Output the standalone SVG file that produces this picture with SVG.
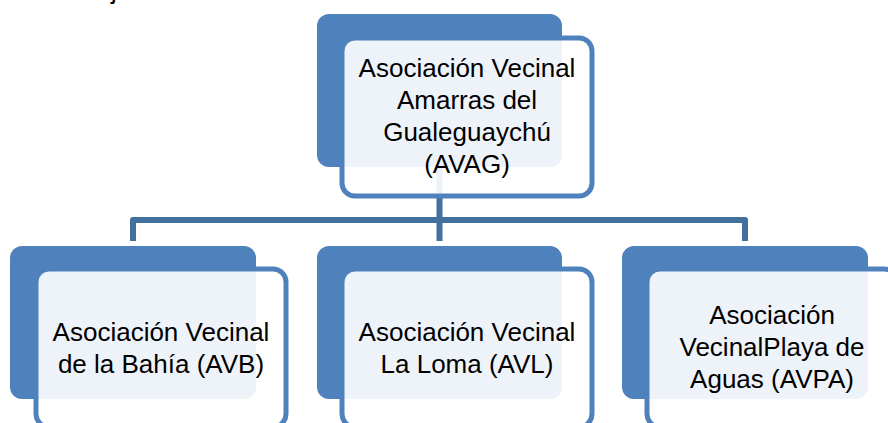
<svg xmlns="http://www.w3.org/2000/svg" width="888" height="423" viewBox="0 0 888 423">
  <style>
    .back { fill: #4F81BD; }
    .front { fill: #FFFFFF; fill-opacity: 0.9; stroke: #4F81BD; stroke-width: 5; }
    .lbl { font-family: "Liberation Sans", Arial, sans-serif; font-size: 26px; fill: #000000; text-anchor: middle; }
    .conn { fill: none; stroke: #41719C; stroke-width: 6; stroke-linejoin: round; }
  </style>
  <rect width="888" height="423" fill="#FFFFFF"/>
  <text x="111" y="-1" style="font-family: 'Liberation Sans', Arial, sans-serif; font-size: 26px; fill: #000000;">j</text>
  <g id="connectors">
    <path class="conn" d="M133,241 V220 H745 V241"/>
    <path class="conn" d="M439.5,90 V241"/>
  </g>
  <g id="node-avag">
    <rect class="back" x="317" y="14" width="245" height="153" rx="12"/>
    <rect class="front" x="342" y="38" width="250" height="158" rx="13"/>
    <text class="lbl" x="467" y="77">Asociación Vecinal</text>
    <text class="lbl" x="467" y="109">Amarras del</text>
    <text class="lbl" x="467" y="141">Gualeguaychú</text>
    <text class="lbl" x="467" y="173">(AVAG)</text>
  </g>
  <g id="node-avb">
    <rect class="back" x="10" y="246" width="246" height="153" rx="12"/>
    <rect class="front" x="36" y="269" width="250" height="158" rx="13"/>
    <text class="lbl" x="161" y="341">Asociación Vecinal</text>
    <text class="lbl" x="161" y="373">de la Bahía (AVB)</text>
  </g>
  <g id="node-avl">
    <rect class="back" x="317" y="246" width="245" height="153" rx="12"/>
    <rect class="front" x="342" y="269" width="250" height="158" rx="13"/>
    <text class="lbl" x="467" y="341">Asociación Vecinal</text>
    <text class="lbl" x="467" y="373">La Loma (AVL)</text>
  </g>
  <g id="node-avpa">
    <rect class="back" x="622" y="246" width="246" height="153" rx="12"/>
    <rect class="front" x="647" y="269" width="250" height="158" rx="13"/>
    <text class="lbl" x="772" y="324">Asociación</text>
    <text class="lbl" x="772" y="356">VecinalPlaya de</text>
    <text class="lbl" x="772" y="388">Aguas (AVPA)</text>
  </g>
</svg>
